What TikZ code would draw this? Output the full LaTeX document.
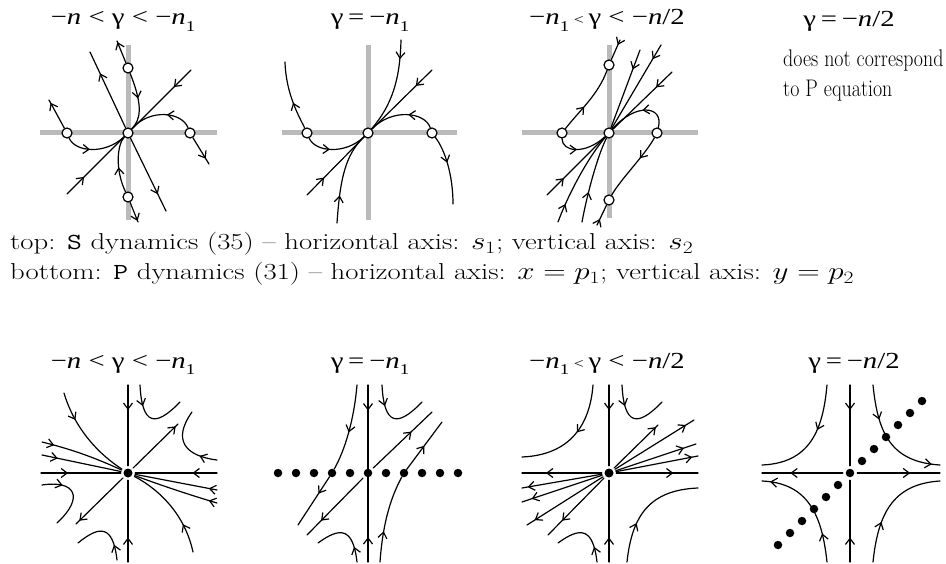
\documentclass[tikz,border=0pt]{standalone}
\usepackage{fontspec}
\usetikzlibrary{arrows.meta,decorations.markings}
\newfontfamily\titlefont[ItalicFont={Liberation Serif Italic}]{Liberation Serif}
\newcommand\mysub[1]{\raisebox{-0.3em}{\fontsize{15}{15}\selectfont #1}}
\newcommand\ttl[1]{\scalebox{1.25}[1]{\titlefont\fontsize{23}{27}\selectfont #1}}
\newcommand\txt[1]{\scalebox{1.25}[1]{\fontsize{23}{27}\selectfont #1}}
\tikzset{
 ar/.style={postaction={decorate,decoration={markings,mark=at position #1 with {\arrow{Straight Barb[length=6pt,width=9pt]}}}}},
 fl/.style={line width=1.2pt, line cap=round},
 gax/.style={line width=5pt, color=black!27},
 fp/.style={circle, draw, line width=1.2pt, fill=white, minimum size=10pt, inner sep=0pt},
 cp/.style={circle, minimum size=14pt, inner sep=0pt, path picture={\fill (path picture bounding box.center) circle (4.5pt);}},
 hole/.style={circle, minimum size=14pt, inner sep=0pt},
 dt/.style={circle, fill, minimum size=8.5pt, inner sep=0pt},
 tt/.style={anchor=base, inner sep=0pt},
}
\begin{document}
\begin{tikzpicture}[x=1pt,y=-1pt]
\useasboundingbox[fill=white] (0,0) rectangle (946,564);

% ---------- titles ----------
\node[tt] (ta) at (123,25) {\ttl{−\textit{n} < γ < −\textit{n}\mysub{1}}};
\node[tt] (tb) at (370,25) {\ttl{γ\,=\,−\textit{n}\mysub{1}}};
\node[tt] (tc) at (607,25) {\ttl{−\textit{n}\mysub{1}\,{\fontsize{14}{14}\selectfont<}\,γ < −\textit{n}/2}};
\node[tt] (td) at (849,27) {\ttl{γ\,=\,−\textit{n}/2}};
\node[tt] (ua) at (123,368) {\ttl{−\textit{n} < γ < −\textit{n}\mysub{1}}};
\node[tt] (ub) at (370,368) {\ttl{γ\,=\,−\textit{n}\mysub{1}}};
\node[tt] (uc) at (607,368) {\ttl{−\textit{n}\mysub{1}\,{\fontsize{14}{14}\selectfont<}\,γ < −\textit{n}/2}};
\node[tt] (ud) at (854,368) {\ttl{γ\,=\,−\textit{n}/2}};

\node[anchor=base west, inner sep=0pt] (n1) at (783,67) {\scalebox{0.83}[1]{\fontsize{24}{28}\selectfont does not correspond}};
\node[anchor=base west, inner sep=0pt] (n2) at (783,97) {\scalebox{0.83}[1]{\fontsize{24}{28}\selectfont to P equation}};

\node[anchor=base west, inner sep=0pt] (l1) at (10,250) {\txt{top: \texttt{S} dynamics (35) \textendash{} horizontal axis: $s_1$; vertical axis: $s_2$}};
\node[anchor=base west, inner sep=0pt] (l2) at (10,280) {\txt{bottom: \texttt{P} dynamics (31) \textendash{} horizontal axis: $x=p_1$; vertical axis: $y=p_2$}};

% ---------- top panel 1 ----------
\draw[gax] (40,133) -- (217,133);
\draw[gax] (128,45) -- (128,220);
\node[fp] (p1c) at (128,133) {};
\node[fp] (p1t) at (128,68) {};
\node[fp] (p1l) at (67,133) {};
\node[fp] (p1r) at (190,133) {};
\node[fp] (p1b) at (128,197) {};
\begin{scope}[fl]
\draw[ar=0.72] (p1c) -- (90,52);
\draw[ar=0.77] (p1c) -- (166,211);
\draw[ar=0.95] (p1t) -- (117,41);
\draw[ar=0.45] (p1t) .. controls (144,108) and (140,120) .. (p1c);
\draw[ar=0.29] (191,70) -- (p1c);
\draw[ar=0.4] (p1r) .. controls (182,112) and (150,108) .. (p1c);
\draw[ar=0.8] (p1r) -- (209,164);
\draw[ar=0.9] (p1l) -- (49,100);
\draw[ar=0.4] (p1l) .. controls (75,152) and (105,155) .. (p1c);
\draw[ar=0.3] (67,194) -- (p1c);
\draw[ar=0.45] (p1b) .. controls (115,170) and (117,145) .. (p1c);
\draw[ar=0.95] (p1b) -- (138,222);
\end{scope}

% ---------- top panel 2 ----------
\draw[gax] (282,133) -- (457,133);
\draw[gax] (368,45) -- (368,220);
\node[fp] (p2c) at (368,133) {};
\node[fp] (p2l) at (307,133) {};
\node[fp] (p2r) at (432,133) {};
\begin{scope}[fl]
\draw[ar=0.2] (401,40) .. controls (400,80) and (392,105) .. (p2c);
\draw[ar=0.27] (432,70) -- (p2c);
\draw[ar=0.4] (p2r) .. controls (425,112) and (392,108) .. (p2c);
\draw[ar=0.4] (p2r) .. controls (445,150) and (453,175) .. (453,204);
\draw[ar=0.4] (p2l) .. controls (300,118) and (286,95) .. (285,62);
\draw[ar=0.4] (p2l) .. controls (315,152) and (345,155) .. (p2c);
\draw[ar=0.3] (307,195) -- (p2c);
\draw[ar=0.3] (337,223) .. controls (340,180) and (345,155) .. (p2c);
\end{scope}

% ---------- top panel 3 ----------
\draw[gax] (522,133) -- (698,133);
\draw[gax] (609,45) -- (609,218);
\node[fp] (p3c) at (609,133) {};
\node[fp] (p3t) at (609,65) {};
\node[fp] (p3l) at (562,133) {};
\node[fp] (p3r) at (657,133) {};
\node[fp] (p3b) at (609,200) {};
\begin{scope}[fl]
\draw[ar=0.25] (620,40) -- (p3t);
\draw[ar=0.4] (p3l) .. controls (580,110) and (598,95) .. (p3t);
\draw[ar=0.25] (640,50) -- (p3c);
\draw[ar=0.17] (661,45) -- (p3c);
\draw[ar=0.27] (672,72) -- (p3c);
\draw[ar=0.45] (p3r) .. controls (664,105) and (635,103) .. (p3c);
\draw[ar=0.35] (p3r) .. controls (645,155) and (620,180) .. (p3b);
\draw[ar=0.4] (p3l) .. controls (562,152) and (585,155) .. (p3c);
\draw[ar=0.29] (547,195) -- (p3c);
\draw[ar=0.2] (558,222) .. controls (570,190) and (590,155) .. (p3c);
\draw[ar=0.35] (582,222) .. controls (588,190) and (598,155) .. (p3c);
\draw[ar=0.3] (597,225) -- (p3b);
\end{scope}

% ---------- bottom panel 1 ----------
\node[cp] (q1) at (128,473) {};
\begin{scope}[fl]
\draw[ar=0.31] (128,385) -- (q1);
\draw[ar=0.3] (128,562) -- (q1);
\draw[ar=0.34] (41,473) -- (q1);
\draw[ar=0.3] (217,473) -- (q1);
\draw[ar=0.95] (q1) -- (178,424);
\draw[ar=0.93] (q1) -- (76,524);
\draw[ar=0.3] (64,393) .. controls (75,430) and (100,455) .. (q1);
\draw[ar=0.15] (42,442) .. controls (75,450) and (100,460) .. (q1);
\draw[ar=0.2] (42,455) -- (q1);
\draw[ar=0.3] (140,385) .. controls (142,425) and (155,428) .. (180,402);
\draw[ar=0.25] (217,460) .. controls (185,456) and (172,440) .. (192,412);
\draw[ar=0.1] (217,490) -- (q1);
\draw[ar=0.1] (217,503) .. controls (190,495) and (160,485) .. (q1);
\draw[ar=0.3] (193,552) .. controls (185,515) and (160,490) .. (q1);
\draw[ar=0.3] (42,485) .. controls (75,480) and (85,497) .. (57,523);
\draw[ar=0.25] (117,560) .. controls (113,525) and (100,525) .. (78,543);
\end{scope}

% ---------- bottom panel 2 ----------
\node[hole] (q2) at (368,473) {};
\begin{scope}[fl]
\draw[ar=0.29] (368,385) -- (368,473);
\draw[ar=0.28] (368,562) -- (368,473);
\end{scope}
\foreach \k in {0,...,10} \node[dt] (d\k) at (278+18*\k,473) {};
\begin{scope}[fl]
\draw[ar=0.55] (357,385) .. controls (354,420) and (345,450) .. (d3);
\draw[ar=0.35] (d3) -- (298,525);
\draw[ar=0.3] (382,385) .. controls (384,425) and (397,428) .. (422,402);
\draw[ar=0.65] (q2) -- (432,412);
\draw[ar=0.75] (q2) -- (307,535);
\draw[ar=0.5] (d7) -- (442,422);
\draw[ar=0.35] (380,562) .. controls (383,520) and (392,495) .. (d7);
\draw[ar=0.25] (357,562) .. controls (353,527) and (340,527) .. (318,543);
\end{scope}

% ---------- bottom panel 3 ----------
\node[cp] (q3) at (609,473) {};
\begin{scope}[fl]
\draw[ar=0.31] (609,385) -- (q3);
\draw[ar=0.3] (609,562) -- (q3);
\draw[ar=0.7] (q3) -- (522,473);
\draw[ar=0.7] (q3) -- (698,473);
\draw[ar=0.45] (593,385) .. controls (590,425) and (570,455) .. (522,457);
\draw[ar=0.3] (622,385) .. controls (624,425) and (637,428) .. (662,402);
\draw[ar=0.95] (q3) -- (658,425);
\draw[ar=0.9] (q3) -- (694,420);
\draw[ar=0.85] (q3) -- (696,444);
\draw[ar=0.93] (q3) -- (698,456);
\draw[ar=0.93] (q3) -- (522,488);
\draw[ar=0.88] (q3) -- (522,502);
\draw[ar=0.9] (q3) -- (527,525);
\draw[ar=0.75] (q3) -- (548,535);
\draw[ar=0.35] (627,562) .. controls (632,515) and (650,490) .. (698,488);
\draw[ar=0.25] (597,562) .. controls (593,527) and (580,527) .. (558,543);
\end{scope}

% ---------- bottom panel 4 ----------
\node[hole] (q4) at (850,473) {};
\foreach \k in {0,...,12} \node[dt] (e\k) at (778+12*\k,545-12*\k) {};
\begin{scope}[fl]
\draw[ar=0.31] (850,385) -- (q4);
\draw[ar=0.3] (850,562) -- (q4);
\draw[ar=0.65] (q4) -- (762,473);
\draw[ar=0.64] (q4) -- (940,473);
\draw[ar=0.4] (827,385) .. controls (823,430) and (810,463) .. (762,465);
\draw[ar=0.3, ar=0.93] (873,385) .. controls (878,435) and (892,462) .. (940,465);
\draw[ar=0.25, ar=0.93] (827,562) .. controls (822,515) and (808,483) .. (762,481);
\draw[ar=0.35] (873,562) .. controls (878,515) and (892,484) .. (940,481);
\end{scope}
\end{tikzpicture}
\end{document}
